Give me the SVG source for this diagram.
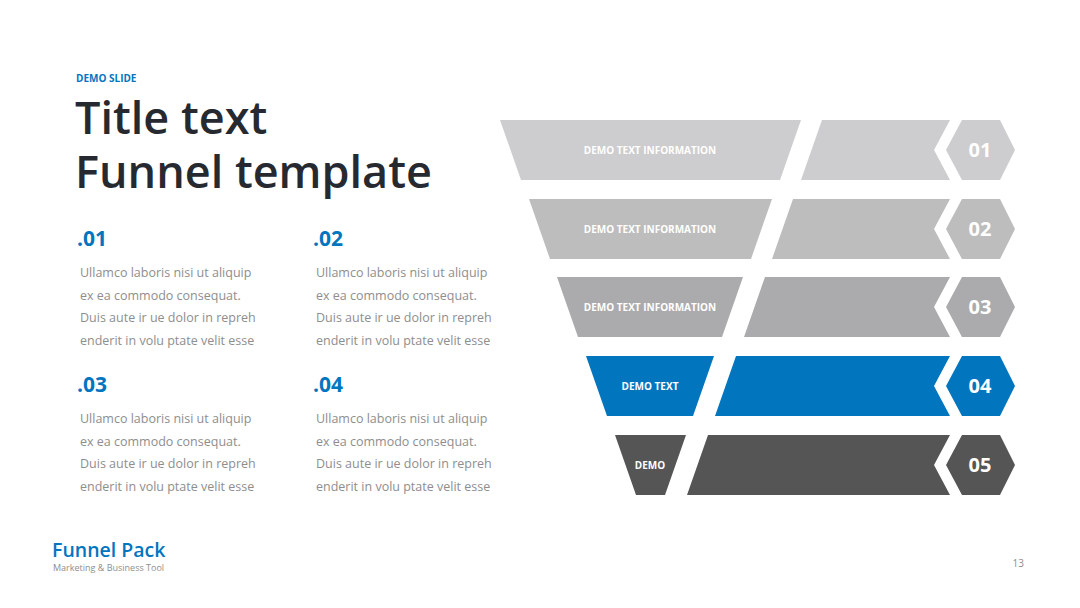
<svg xmlns="http://www.w3.org/2000/svg" width="1080" height="608" viewBox="0 0 1080 608">
<style>
.f{font-family:"Open Sans","Noto Sans","Liberation Sans",sans-serif}
.lbl{font-family:"Open Sans","Noto Sans","Liberation Sans",sans-serif;font-weight:700;font-size:10px;fill:#ffffff;text-anchor:middle}
.num{font-family:"Open Sans","Noto Sans","Liberation Sans",sans-serif;font-weight:700;font-size:20px;fill:#ffffff;text-anchor:middle}
.sub{font-family:"Open Sans","Noto Sans","Liberation Sans",sans-serif;font-weight:700;font-size:21px;fill:#0275bf}
.body{font-family:"Open Sans","Noto Sans","Liberation Sans",sans-serif;font-size:12.5px;fill:#8e8e8e}
.c1{fill:#cdccce}.c2{fill:#bdbdbe}.c3{fill:#ababad}.c4{fill:#0275bf}.c5{fill:#555555}
</style>
<rect width="1080" height="608" fill="#ffffff"/>

<g id="header">
<text x="76" y="82" class="f" font-size="10" font-weight="700" fill="#0275bf">DEMO SLIDE</text>
<text x="75" y="134" class="f" font-size="45" font-weight="600" fill="#262a30">Title text</text>
<text x="75" y="188" class="f" font-size="45" font-weight="600" fill="#262a30">Funnel template</text>
</g>

<g id="item-01">
<text x="77" y="246" class="sub">.01</text>
<text class="body"><tspan x="80" y="277">Ullamco laboris nisi ut aliquip</tspan><tspan x="80" y="299.5">ex ea commodo consequat.</tspan><tspan x="80" y="322">Duis aute ir ue dolor in repreh</tspan><tspan x="80" y="344.5">enderit in volu ptate velit esse</tspan></text>
</g>
<g id="item-02">
<text x="313" y="246" class="sub">.02</text>
<text class="body"><tspan x="316" y="277">Ullamco laboris nisi ut aliquip</tspan><tspan x="316" y="299.5">ex ea commodo consequat.</tspan><tspan x="316" y="322">Duis aute ir ue dolor in repreh</tspan><tspan x="316" y="344.5">enderit in volu ptate velit esse</tspan></text>
</g>
<g id="item-03">
<text x="77" y="392" class="sub">.03</text>
<text class="body"><tspan x="80" y="423">Ullamco laboris nisi ut aliquip</tspan><tspan x="80" y="445.5">ex ea commodo consequat.</tspan><tspan x="80" y="468">Duis aute ir ue dolor in repreh</tspan><tspan x="80" y="490.5">enderit in volu ptate velit esse</tspan></text>
</g>
<g id="item-04">
<text x="313" y="392" class="sub">.04</text>
<text class="body"><tspan x="316" y="423">Ullamco laboris nisi ut aliquip</tspan><tspan x="316" y="445.5">ex ea commodo consequat.</tspan><tspan x="316" y="468">Duis aute ir ue dolor in repreh</tspan><tspan x="316" y="490.5">enderit in volu ptate velit esse</tspan></text>
</g>

<g id="funnel-01">
<polygon class="c1" points="500,120 801,120 780,180 521,180"/>
<polygon class="c1" points="822,120 950,120 934,150 950,180 801,180"/>
<polygon class="c1" points="962,120 1000,120 1015,150 1000,180 962,180 946,150"/>
<text x="650" y="154" class="lbl">DEMO TEXT INFORMATION</text>
<text x="980" y="157" class="num">01</text>
</g>
<g id="funnel-02">
<polygon class="c2" points="529,199 772,199 751,259 550,259"/>
<polygon class="c2" points="793,199 950,199 934,229 950,259 772,259"/>
<polygon class="c2" points="962,199 1000,199 1015,229 1000,259 962,259 946,229"/>
<text x="650" y="233" class="lbl">DEMO TEXT INFORMATION</text>
<text x="980" y="236" class="num">02</text>
</g>
<g id="funnel-03">
<polygon class="c3" points="557,277 743,277 722,337 578,337"/>
<polygon class="c3" points="765,277 950,277 934,307 950,337 744,337"/>
<polygon class="c3" points="962,277 1000,277 1015,307 1000,337 962,337 946,307"/>
<text x="650" y="311" class="lbl">DEMO TEXT INFORMATION</text>
<text x="980" y="314" class="num">03</text>
</g>
<g id="funnel-04">
<polygon class="c4" points="586,356 714,356 693,416 607,416"/>
<polygon class="c4" points="736,356 950,356 934,386 950,416 715,416"/>
<polygon class="c4" points="962,356 1000,356 1015,386 1000,416 962,416 946,386"/>
<text x="650" y="390" class="lbl">DEMO TEXT</text>
<text x="980" y="393" class="num">04</text>
</g>
<g id="funnel-05">
<polygon class="c5" points="615,435 686,435 665,495 636,495"/>
<polygon class="c5" points="708,435 950,435 934,465 950,495 687,495"/>
<polygon class="c5" points="962,435 1000,435 1015,465 1000,495 962,495 946,465"/>
<text x="650" y="469" class="lbl">DEMO</text>
<text x="980" y="472" class="num">05</text>
</g>

<g id="footer">
<text x="52" y="557" class="f" font-size="19.5" font-weight="600" fill="#0275bf">Funnel Pack</text>
<text x="53" y="571" class="f" font-size="9" fill="#8e8e8e">Marketing &amp; Business Tool</text>
<text x="1024" y="567" class="f" font-size="10" fill="#8e8e8e" text-anchor="end">13</text>
</g>
</svg>
